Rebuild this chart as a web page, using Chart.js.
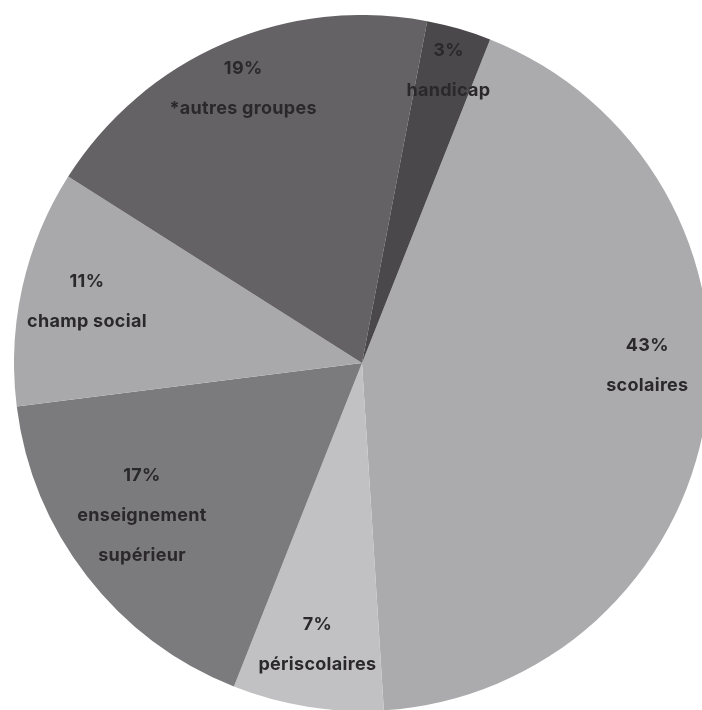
<!DOCTYPE html>
<html>
<head>
<meta charset="utf-8">
<script src="https://cdn.jsdelivr.net/npm/chart.js@4.4.1/dist/chart.umd.min.js"></script>
<style>
  html, body { margin: 0; padding: 0; background: #fff; overflow: hidden; width: 702px; height: 710px; }
  #wrap { position: absolute; left: 14px; top: 15px; width: 696px; height: 696px; }
</style>
</head>
<body>
<div id="wrap"><canvas id="pie"></canvas></div>
<script>
// Data (clockwise, starting right after "handicap")
const categories = ["scolaires", "périscolaires", "enseignement\nsupérieur", "champ social", "*autres groupes", "handicap"];
const shares = [43, 7, 17, 11, 19, 3];
const sliceColors = ["#abaaac", "#c1c1c3", "#7b7a7c", "#a9a9ab", "#646264", "#4a484a"];

// label placement tweaks (fraction of radius, angle shift in degrees)
const labelRadius = [0.82, 0.82, 0.77, 0.81, 0.86, 0.875];
const labelShift = [-8.5, 0, 3, 0, 0, 0.3];

const lineGap = 40;

// draws "xx%" + name inside each slice
const sliceLabels = {
  id: "sliceLabels",
  afterDatasetsDraw(chart) {
    const ctx = chart.ctx;
    const meta = chart.getDatasetMeta(0);
    ctx.save();
    ctx.fillStyle = "#2a282a";
    ctx.font = "700 18px Inter";
    ctx.letterSpacing = "0.3px";
    ctx.textAlign = "center";
    ctx.textBaseline = "middle";
    meta.data.forEach((arc, i) => {
      const p = arc.getProps(["x", "y", "startAngle", "endAngle", "outerRadius"], true);
      const mid = (p.startAngle + p.endAngle) / 2 + labelShift[i] * Math.PI / 180;
      const r = p.outerRadius * labelRadius[i];
      const cx = p.x + Math.cos(mid) * r;
      const cy = p.y + Math.sin(mid) * r;
      const lines = [shares[i] + "%"].concat(categories[i].split("\n"));
      const top = cy - (lines.length - 1) * lineGap / 2;
      lines.forEach((t, j) => ctx.fillText(t, cx, top + j * lineGap));
    });
    ctx.restore();
  }
};

new Chart(document.getElementById("pie"), {
  type: "pie",
  data: {
    labels: categories,
    datasets: [{
      data: shares,
      backgroundColor: sliceColors,
      borderWidth: 0,
      hoverOffset: 0,
      offset: 0
    }]
  },
  options: {
    responsive: true,
    maintainAspectRatio: false,
    animation: false,
    rotation: 21.6,
    layout: { padding: 0 },
    plugins: {
      legend: { display: false },
      tooltip: { enabled: false }
    }
  },
  plugins: [sliceLabels]
});
</script>
</body>
</html>
